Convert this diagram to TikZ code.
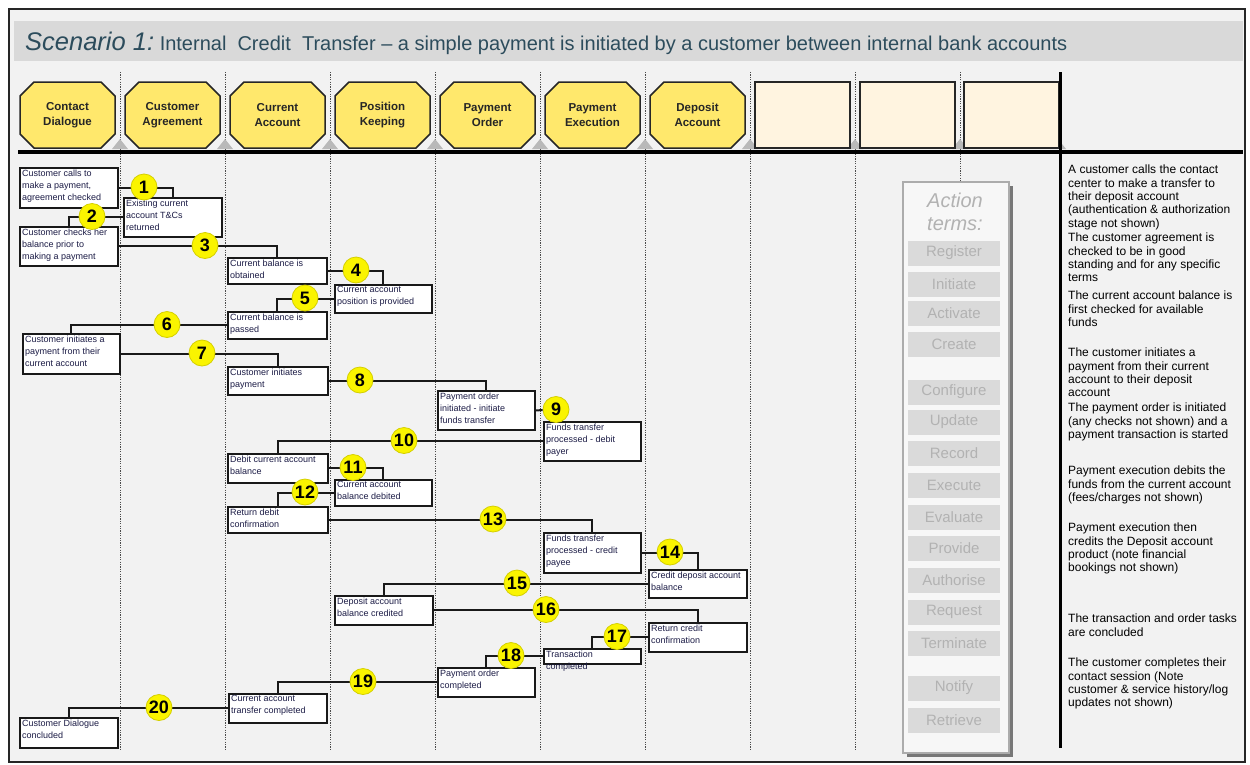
\documentclass[tikz,border=0pt]{standalone}
\usepackage{fontspec}
\setmainfont{Liberation Sans}
\usetikzlibrary{shapes.misc,shadows}

\definecolor{bgc}{RGB}{242,242,242}
\definecolor{bandc}{RGB}{217,217,217}
\definecolor{titlec}{RGB}{44,76,92}
\definecolor{hdry}{RGB}{255,232,108}
\definecolor{hdre}{RGB}{255,244,224}
\definecolor{numy}{RGB}{250,244,0}
\definecolor{stepc}{RGB}{28,28,70}
\definecolor{itemc}{RGB}{218,218,218}
\definecolor{itemt}{RGB}{178,178,178}

\tikzset{
  sep/.style={line width=1pt, draw=black!70, dash pattern=on 1.2pt off 1.2pt},
  hdr/.style={chamfered rectangle, chamfered rectangle xsep=7pt, chamfered rectangle ysep=7pt,
    draw=black!85, line width=1.5pt, fill=hdry, minimum width=95pt, minimum height=66pt,
    inner sep=0pt, align=center, font=\bfseries\fontsize{11.5}{14.5}\selectfont, text=black!85},
  hdrempty/.style={hdr, fill=hdre},
  stepbox/.style={draw=black!90, line width=1.8pt, fill=white, inner sep=0pt},
  steptext/.style={inner sep=0pt, align=left, font=\fontsize{9}{12}\selectfont, text=stepc,
    xshift=3pt, yshift=-2.5pt, anchor=north west},
  conn/.style={line width=2pt, draw=black!90},
  num/.style={circle, fill=numy, draw=numy!85!black, line width=0.8pt, minimum size=26pt,
    inner sep=0pt, font=\bfseries\fontsize{18}{18}\selectfont, text=black},
  item/.style={fill=itemc, minimum width=92pt, minimum height=25pt, inner sep=0pt,
    text=itemt, font=\fontsize{15}{15}\selectfont},
  note/.style={anchor=north west, inner sep=0pt, align=left,
    font=\fontsize{12}{13.3}\selectfont, text=black},
}

% step box: name, x1, y1, x2, y2, text
\newcommand\stepnode[6]{%
  \node[stepbox, anchor=north west, minimum width={#4pt-#2pt}, minimum height={#5pt-#3pt}]
    (#1) at (#2,#3) {};
  \node[steptext] (#1t) at (#1.north west) {#6};
}

\begin{document}
\begin{tikzpicture}[x=1pt,y=-1pt]
\useasboundingbox (0,0) rectangle (1250,764);
\fill[white] (0,0) rectangle (1250,764);

% frame, background and title band
\draw[fill=bgc, line width=2pt, draw=black!85] (9,9) rectangle (1245,762);
\fill[bandc] (14,21) rectangle (1243,61);
\node[anchor=base west, inner sep=0pt, text=titlec] (title) at (25,50)
  {{\fontsize{25.5}{28}\selectfont\itshape Scenario 1:}\fontsize{20}{24}\selectfont\ Internal\ \ Credit\ \ Transfer -- a simple payment is initiated by a customer between internal bank accounts};

% lane separators
\foreach \x in {120,225,...,855} \draw[sep] (\x,72) -- (\x,750);
\draw[sep] (960,72) -- (960,181);

% bevel triangles under header boxes
\foreach \x in {120,225,...,960,1058}
  \fill[gray!55] ({\x-8},149) -- ({\x+8},149) -- (\x,139) -- cycle;

% header boxes
\foreach \t [count=\k] in {{Contact\\Dialogue},{Customer\\Agreement},{Current\\Account},
    {Position\\Keeping},{Payment\\Order},{Payment\\Execution},{Deposit\\Account}}
  \node[hdr] (h\k) at ({67.5+105*(\k-1)},115) {\t};
\node[hdrempty] (h8) at (802.5,115) {};
\node[hdrempty] (h9) at (907.5,115) {};
\node[hdrempty] (h10) at (1011.5,115) {};

% heavy rules
\draw[line width=4.5pt] (18,152) -- (1243,152);
\draw[line width=3pt] (1060,72) -- (1060,748);

% step boxes
\stepnode{A}{19}{167}{117}{207}{Customer calls to\\make a payment,\\agreement checked}
\stepnode{B}{123}{197}{221}{236}{Existing current\\account T\&Cs\\returned}
\stepnode{C}{19}{226}{117}{265}{Customer checks her\\balance prior to\\making a payment}
\stepnode{D}{227}{257}{326}{283}{Current balance is\\obtained}
\stepnode{E}{334}{284}{431}{312}{Current account\\position is provided}
\stepnode{F}{227}{311}{326}{338}{Current balance is\\passed}
\stepnode{G}{22}{333}{119}{373}{Customer initiates a\\payment from their\\current account}
\stepnode{H}{227}{366}{327}{394}{Customer initiates\\payment}
\stepnode{I}{437}{390}{534}{429}{Payment order\\initiated - initiate\\funds transfer}
\stepnode{J}{543}{421}{640}{460}{Funds transfer\\processed - debit\\payer}
\stepnode{K}{227}{453}{327}{482}{Debit current account\\balance}
\stepnode{L}{334}{479}{431}{505}{Current account\\balance debited}
\stepnode{M}{227}{506}{327}{532}{Return debit\\confirmation}
\stepnode{N}{543}{532}{640}{572}{Funds transfer\\processed - credit\\payee}
\stepnode{O}{648}{569}{746}{597}{Credit deposit account\\balance}
\stepnode{P}{334}{595}{432}{624}{Deposit account\\balance credited}
\stepnode{Q}{648}{622}{746}{651}{Return credit\\confirmation}
\stepnode{R}{543}{648}{640}{663}{Transaction\\completed}
\stepnode{S}{437}{667}{534}{696}{Payment order\\completed}
\stepnode{T}{228}{693}{326}{722}{Current account\\transfer completed}
\stepnode{U}{19}{717}{117}{747}{Customer Dialogue\\concluded}

% connectors
\draw[conn] (A.east) -| (B.north);
\draw[conn] (B.west) -| (C.north);
\draw[conn] (C.east) -| (D.north);
\draw[conn] (D.east) -| (E.north);
\draw[conn] (E.west) -| (F.north);
\draw[conn] (F.west) -| (G.north);
\draw[conn] (G.east) -| (H.north);
\draw[conn] (H.east) -| (I.north);
\draw[conn] (J.west) -| (K.north);
\draw[conn] (K.east) -| (L.north);
\draw[conn] (L.west) -| (M.north);
\draw[conn] (M.east) -| (N.north);
\draw[conn] (N.east) -| (O.north);
\draw[conn] (O.west) -| (P.north);
\draw[conn] (P.east) -| (Q.north);
\draw[conn] (Q.west) -| (R.north);
\draw[conn] (R.west) -| (S.north);
\draw[conn] (S.west) -| (T.north);
\draw[conn] (T.west) -| (U.north);

% step numbers
\node[num] (n1) at (144,187) {1};
\node[num] (n2) at (92,216.5) {2};
\node[num] (n3) at (205,245.5) {3};
\node[num] (n4) at (356,270) {4};
\node[num] (n5) at (305,298) {5};
\node[num] (n6) at (167,324.5) {6};
\node[num] (n7) at (202,353) {7};
\node[num] (n8) at (360,380) {8};
\node[num] (n9) at (556,409.5) {9};
\node[num] (n10) at (404,440.5) {10};
\node[num] (n11) at (353,467.5) {11};
\node[num] (n12) at (305,492) {12};
\node[num] (n13) at (493,519) {13};
\node[num] (n14) at (670,552) {14};
\node[num] (n15) at (517,583) {15};
\node[num] (n16) at (546,609.5) {16};
\node[num] (n17) at (617,636.5) {17};
\node[num] (n18) at (511,655.5) {18};
\node[num] (n19) at (363,681.5) {19};
\node[num] (n20) at (159,707.5) {20};
\draw[conn] (I.east) -- (n9);

% action terms panel
\node[draw=gray!65, line width=2pt, fill=bgc!60!white, minimum width=106pt, minimum height=571pt,
  inner sep=0pt, anchor=north west,
  drop shadow={shadow xshift=4pt, shadow yshift=-4pt, fill=black!65, opacity=.8}] (act) at (902,181) {};
\node[align=center, text=gray!60, inner sep=0pt,
  font=\itshape\fontsize{20}{23}\selectfont] (acttitle) at (955,212) {Action\\terms:};
\foreach \t/\y [count=\k] in {Register/253,Initiate/284,Activate/313,Create/344,Configure/392,
    Update/422,Record/453,Execute/485,Evaluate/517,Provide/548,Authorise/580,Request/612,
    Terminate/643,Notify/688,Retrieve/720}
  \node[item] (a\k) at (954,\y) {\t};

% narrative column
\node[note] (t1) at (1068,165) {A customer calls the contact\\center to make a transfer to\\their deposit account\\(authentication \& authorization\\stage not shown)};
\node[note] (t2) at (1068,233) {The customer agreement is\\checked to be in good\\standing and for any specific\\terms};
\node[note] (t3) at (1068,291) {The current account balance is\\first checked for available\\funds};
\node[note] (t4) at (1068,348) {The customer initiates a\\payment from their current\\account to their deposit\\account};
\node[note] (t5) at (1068,403) {The payment order is initiated\\(any checks not shown) and a\\payment transaction is started};
\node[note] (t6) at (1068,466) {Payment execution debits the\\funds from the current account\\(fees/charges not shown)};
\node[note] (t7) at (1068,523) {Payment execution then\\credits the Deposit account\\product (note financial\\bookings not shown)};
\node[note] (t8) at (1068,614) {The transaction and order tasks\\are concluded};
\node[note] (t9) at (1068,658) {The customer completes their\\contact session (Note\\customer \& service history/log\\updates not shown)};
\end{tikzpicture}
\end{document}
